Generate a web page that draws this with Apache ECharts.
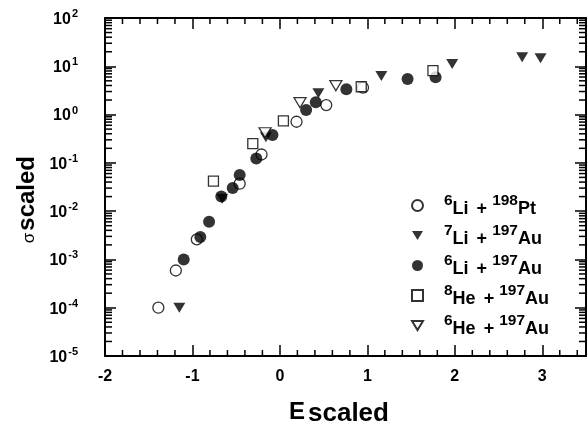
<!DOCTYPE html>
<html>
<head>
<meta charset="utf-8">
<script src="https://cdn.jsdelivr.net/npm/echarts@6/dist/echarts.min.js"></script>
<style>
  html, body { margin: 0; padding: 0; background: #fff; }
  #chart { width: 587px; height: 427px; }
</style>
</head>
<body>
<div id="chart"></div>
<script>
// Scaled fusion cross sections vs scaled energy, five reaction systems
const li6Pt198 = [
  [-1.39, 1.0e-4], [-1.19, 5.9e-4], [-0.95, 2.6e-3], [-0.46, 0.037],
  [-0.21, 0.149], [0.19, 0.71], [0.53, 1.57], [0.95, 3.6]
];
const li7Au197 = [
  [-1.15, 1.0e-4], [-0.66, 0.018], [-0.16, 0.34], [0.44, 2.75],
  [1.16, 6.3], [1.97, 11.2], [2.77, 15.4], [2.98, 14.7]
];
const li6Au197 = [
  [-1.10, 1.0e-3], [-0.91, 2.9e-3], [-0.81, 6.0e-3], [-0.67, 0.020],
  [-0.54, 0.030], [-0.46, 0.056], [-0.27, 0.123], [-0.085, 0.376],
  [0.30, 1.24], [0.41, 1.79], [0.76, 3.33], [1.46, 5.46], [1.78, 5.9]
];
const he8Au197 = [
  [-0.76, 0.042], [-0.31, 0.25], [0.04, 0.74], [0.93, 3.77], [1.75, 8.1]
];
const he6Au197 = [
  [-0.17, 0.42], [0.23, 1.76], [0.64, 3.96]
];

// Legend labels (rich text: {sup|..} is a superscript mass number)
const seriesNames = ['li6Pt', 'li7Au', 'li6Au', 'he8Au', 'he6Au'];
const seriesLabels = {
  li6Pt: '{sup|6}{m|Li}{p|+}{sup|198}{m|Pt}',
  li7Au: '{sup|7}{m|Li}{p|+}{sup|197}{m|Au}',
  li6Au: '{sup|6}{m|Li}{p|+}{sup|197}{m|Au}',
  he8Au: '{sup|8}{m|He}{p|+}{sup|197}{m|Au}',
  he6Au: '{sup|6}{m|He}{p|+}{sup|197}{m|Au}'
};

// Axis ranges
const xMin = -2, xMax = 3.5;
const yMin = 1e-5, yMax = 100;

// Minor tick positions: log axis 2..9 per decade, x axis every 0.2
const yMinorTicks = [];
for (let d = -5; d < 2; d++) {
  for (let m = 2; m <= 9; m++) yMinorTicks.push(m * Math.pow(10, d));
}
const xMinorTicks = [];
for (let k = 0; k <= 27; k++) {
  const v = Math.round((xMin + 0.2 * k) * 10) / 10;
  if (Math.abs(v - Math.round(v)) > 1e-6 && v < xMax) xMinorTicks.push(v);
}

const FONT = '"Liberation Sans", Arial, sans-serif';
const BLACK = '#000';
const DOWN_TRIANGLE = 'path://M0,0L12,0L6,10Z';

const chart = echarts.init(document.getElementById('chart'), null, { renderer: 'canvas' });

const supRich = {
  b: { fontFamily: FONT, fontWeight: 'bold', fontSize: 16, color: BLACK, verticalAlign: 'bottom' },
  e: { fontFamily: FONT, fontWeight: 'bold', fontSize: 11, color: BLACK, verticalAlign: 'bottom', padding: [0, 0, 8, 1] }
};

function axisCommon(pos, showLabel) {
  return {
    position: pos,
    axisLine: { show: true, onZero: false, lineStyle: { color: BLACK, width: 2 } },
    axisTick: { show: true, inside: true, length: 11, lineStyle: { color: BLACK, width: 1.5 } },
    splitLine: { show: false },
    axisLabel: { show: showLabel }
  };
}

const xBottom = Object.assign(axisCommon('bottom', true), {
  type: 'value', min: xMin, max: xMax, interval: 1,
  axisLabel: {
    show: true, margin: 13, showMaxLabel: false,
    fontFamily: FONT, fontWeight: 'bold', fontSize: 16, color: BLACK,
    formatter: v => (Math.abs(v - Math.round(v)) < 1e-6 ? String(Math.round(v)) : '')
  }
});
const xTop = Object.assign(axisCommon('top', false), {
  type: 'value', min: xMin, max: xMax, interval: 1
});
const yLeft = Object.assign(axisCommon('left', true), {
  type: 'log', logBase: 10, min: yMin, max: yMax, splitNumber: 7,
  axisLabel: {
    show: true, margin: 27,
    formatter: v => '{b|10}{e|' + Math.round(Math.log10(v)) + '}',
    rich: supRich
  }
});
const yRight = Object.assign(axisCommon('right', false), {
  type: 'log', logBase: 10, min: yMin, max: yMax, splitNumber: 7
});

// Short ticks drawn along the frame edges, positioned through the axis scales
function minorTickSeries(values, isY) {
  return {
    type: 'custom',
    name: isY ? 'yMinor' : 'xMinor',
    silent: true,
    clip: false,
    z: 1,
    data: values.map(v => (isY ? [xMin, v] : [v, yMin])),
    encode: { x: 0, y: 1 },
    renderItem: function (params, api) {
      const style = { stroke: BLACK, lineWidth: 1.5 };
      if (isY) {
        const v = api.value(1);
        const a = api.coord([xMin, v]);
        const b = api.coord([xMax, v]);
        return { type: 'group', children: [
          { type: 'line', shape: { x1: a[0], y1: a[1], x2: a[0] + 7, y2: a[1] }, style },
          { type: 'line', shape: { x1: b[0], y1: b[1], x2: b[0] - 7, y2: b[1] }, style }
        ] };
      }
      const v = api.value(0);
      const a = api.coord([v, yMin]);
      const b = api.coord([v, yMax]);
      return { type: 'group', children: [
        { type: 'line', shape: { x1: a[0], y1: a[1], x2: a[0], y2: a[1] - 6 }, style },
        { type: 'line', shape: { x1: b[0], y1: b[1], x2: b[0], y2: b[1] + 6 }, style }
      ] };
    }
  };
}

const openStyle = { color: '#fff', borderColor: BLACK, borderWidth: 1.3 };
const fillStyle = { color: BLACK, borderColor: BLACK, borderWidth: 0 };

const option = {
  backgroundColor: '#fff',
  animation: false,
  grid: { left: 105, right: 1, top: 18, bottom: 71, containLabel: false },
  xAxis: [xBottom, xTop],
  yAxis: [yLeft, yRight],
  legend: {
    data: seriesNames,
    orient: 'vertical',
    left: 406,
    top: 188,
    itemWidth: 11,
    itemHeight: 11,
    itemGap: 5,
    formatter: name => seriesLabels[name],
    textStyle: {
      padding: [0, 0, 0, 16],
      rich: {
        m: { fontFamily: FONT, fontWeight: 'bold', fontSize: 18, color: BLACK, verticalAlign: 'bottom' },
        p: { fontFamily: FONT, fontWeight: 'bold', fontSize: 18, color: BLACK, verticalAlign: 'bottom', padding: [0, 5, 0, 8] },
        sup: { fontFamily: FONT, fontWeight: 'bold', fontSize: 15.5, color: BLACK, verticalAlign: 'bottom', padding: [0, 0, 9, 0] }
      }
    }
  },
  graphic: [
    {
      type: 'text', left: 15, top: 156, rotation: Math.PI / 2,
      style: {
        text: '{g|σ}{s|scaled}',
        rich: {
          g: { fontFamily: FONT, fontSize: 17, color: BLACK, verticalAlign: 'bottom', padding: [0, 2, 1, 0] },
          s: { fontFamily: FONT, fontWeight: 'bold', fontSize: 24, color: BLACK, verticalAlign: 'bottom' }
        }
      }
    },
    {
      type: 'text', left: 289, top: 400,
      style: {
        text: '{E|E}{s|scaled}',
        rich: {
          E: { fontFamily: FONT, fontSize: 24, fontWeight: 'bold', color: BLACK, verticalAlign: 'bottom', padding: [0, 3, 3, 0] },
          s: { fontFamily: FONT, fontWeight: 'bold', fontSize: 26, color: BLACK, verticalAlign: 'bottom' }
        }
      }
    }
  ],
  series: [
    minorTickSeries(yMinorTicks, true),
    minorTickSeries(xMinorTicks, false),
    { name: 'li6Pt', type: 'scatter', data: li6Pt198, symbol: 'circle', symbolSize: 11, itemStyle: openStyle, z: 3 },
    { name: 'li7Au', type: 'scatter', data: li7Au197, symbol: DOWN_TRIANGLE, symbolSize: [12, 10], itemStyle: fillStyle, z: 4 },
    { name: 'li6Au', type: 'scatter', data: li6Au197, symbol: 'circle', symbolSize: 12, itemStyle: fillStyle, z: 4 },
    { name: 'he8Au', type: 'scatter', data: he8Au197, symbol: 'rect', symbolSize: 10, itemStyle: openStyle, z: 5 },
    { name: 'he6Au', type: 'scatter', data: he6Au197, symbol: DOWN_TRIANGLE, symbolSize: [12, 10], itemStyle: openStyle, z: 5 }
  ]
};

chart.setOption(option);
</script>
</body>
</html>
